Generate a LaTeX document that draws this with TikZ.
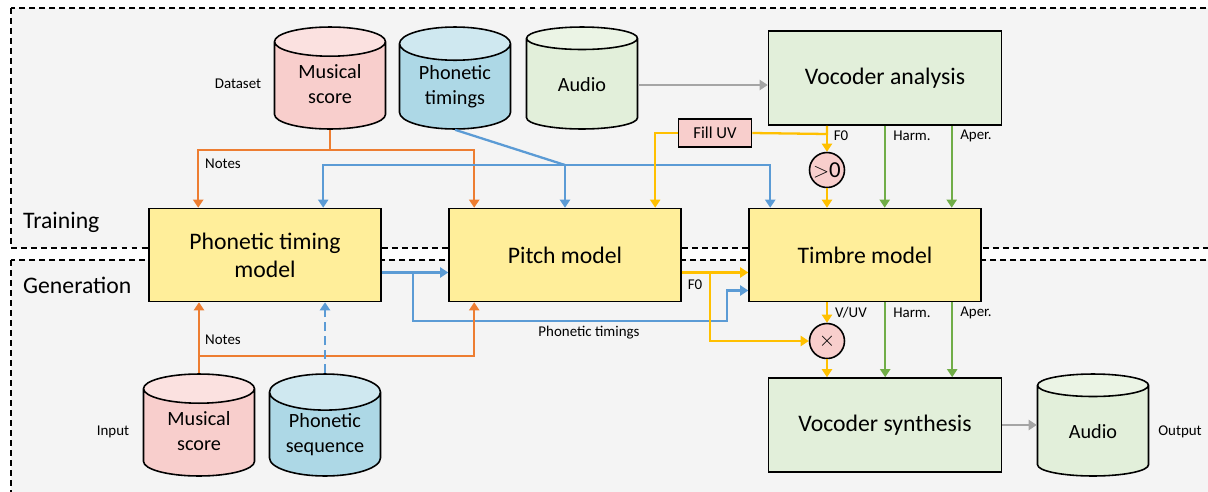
\documentclass[tikz,border=0pt]{standalone}
\usepackage{fontspec}
\setmainfont{Carlito}
\usetikzlibrary{arrows.meta,shapes.geometric}
% extra depth under the last line lifts two-line cylinder text a little
\newcommand{\dbpad}{\rule[-3.5pt]{0pt}{0pt}}

\begin{document}
\begin{tikzpicture}[x=0.02cm, y=-0.02cm,
    model/.style={draw, line width=0.9pt, fill=mfill, minimum width=4.64cm, minimum height=1.86cm, align=center, font=\fontsize{13.5}{16}\selectfont},
    vocoder/.style={model, fill=gfill, minimum width=4.66cm, minimum height=1.88cm},
    db/.style={cylinder, shape border rotate=90, aspect=0.45, anchor=shape center, draw, line width=0.9pt, cylinder uses custom fill, inner sep=0.5pt, minimum width=2.22cm, minimum height=2.04cm, align=center, font=\fontsize{11.5}{14}\selectfont},
    op/.style={circle, draw, line width=0.9pt, fill=pfill, minimum size=0.7cm, inner sep=0pt, font=\fontsize{13}{14}\selectfont},
    lab/.style={font=\fontsize{8.5}{10}\selectfont, inner sep=1pt},
    region/.style={draw, fill=bgray, line width=0.7pt, dash pattern=on 3.4pt off 2.3pt},
    link/.style={line width=1.3pt, -{Triangle[length=0.16cm, width=0.2cm]}},
    note/.style={link, ncol},
    phon/.style={link, bcol},
    fzero/.style={link, fcol},
    spec/.style={link, scol},
    wave/.style={link, acol}]
        % Define standard colors
        \definecolor{bgray}{HTML}{F4F4F4}
        \definecolor{pfill}{HTML}{F8CECC} % Pinkish
        \definecolor{ptop}{HTML}{FBE1E0}
        \definecolor{bfill}{HTML}{ADD8E6} % Blueish
        \definecolor{btop}{HTML}{CFE8F0}
        \definecolor{gfill}{HTML}{E2EFDA} % Greenish
        \definecolor{gtop}{HTML}{EBF4E5}
        \definecolor{mfill}{HTML}{FFEE9A} % Yellowish
        \definecolor{ncol}{HTML}{ED7D31}
        \definecolor{bcol}{HTML}{5B9BD5}
        \definecolor{fcol}{HTML}{FFC000}
        \definecolor{scol}{HTML}{70AD47}
        \definecolor{acol}{HTML}{A5A5A5}

        \clip (0,0) rectangle (1208,491);

        % --- Regions ---
        \draw[region] (11,8) rectangle (1240,248);
        \draw[region] (11,260) rectangle (1240,520);
        \node[anchor=west, font=\fontsize{13.5}{16}\selectfont] (train) at (17,222) {Training};
        \node[anchor=west, font=\fontsize{13.5}{16}\selectfont] (gen) at (17,285) {Generation};

        % --- Dataset ---
        \node[db, cylinder body fill=pfill, cylinder end fill=ptop] (ds) at (330,78) {Musical\\score\dbpad};
        \node[db, cylinder body fill=bfill, cylinder end fill=btop] (pt) at (455,78) {Phonetic\\timings\dbpad};
        \node[db, cylinder body fill=gfill, cylinder end fill=gtop] (audio) at (582,78) {Audio};
        \node[lab] (dslab) at (238,84) {Dataset};
        \node[vocoder] (va) at (885,78) {Vocoder analysis};
        \node[draw, line width=0.9pt, fill=pfill, minimum width=1.46cm, minimum height=0.56cm, inner sep=0pt, font=\fontsize{9.5}{11}\selectfont] (fill) at (715,133) {Fill UV};
        \node[op] (gt) at (827,170) {$>$0};

        % --- Models ---
        \node[model] (ptm) at (265,255) {Phonetic timing\\model};
        \node[model] (pitch) at (565,255) {Pitch model};
        \node[model] (timbre) at (865,255) {Timbre model};

        % --- Generation ---
        \node[op] (mul) at (827,341) {$\times$};
        \node[vocoder] (vs) at (885,425) {Vocoder synthesis};
        \node[db, cylinder body fill=pfill, cylinder end fill=ptop] (msin) at (199,425) {Musical\\score\dbpad};
        \node[db, cylinder body fill=bfill, cylinder end fill=btop] (pseq) at (325,425) {Phonetic\\sequence\dbpad};
        \node[db, cylinder body fill=gfill, cylinder end fill=gtop] (out) at (1093,425) {Audio};
        \node[lab] (inlab) at (113,432) {Input};
        \node[lab] (outlab) at (1180,432) {Output};

        % Notes from the dataset
        \coordinate (nsplit) at (330,150);
        \draw[note, -] (ds.south) -- (nsplit);
        \draw[note] (nsplit) -| ([xshift=1cm]ptm.north west);
        \draw[note] (nsplit) -| ([xshift=0.52cm]pitch.north west);
        \node[lab] (notes1) at (223,164) {Notes};

        % Phonetic timings from the dataset
        \coordinate (psplit) at (565,165);
        \draw[phon, -] (pt.south) -- (psplit);
        \draw[phon] (psplit) -| ([xshift=3.5cm]ptm.north west);
        \draw[phon] (psplit) -- (pitch.north);
        \draw[phon] (psplit) -| ([xshift=0.44cm]timbre.north west);

        % Analysis
        \draw[wave] (audio.east) -- (va.west |- audio.east);
        \coordinate (f0split) at (827,134);
        \draw[fzero, -] (va.south -| gt.north) -- (f0split) -- (fill.east);
        \draw[fzero] (f0split) -- (gt.north);
        \draw[fzero] (fill.west) -| ([xshift=4.14cm]pitch.north west);
        \draw[fzero] (gt.south) -- (timbre.north -| gt.south);
        \draw[spec] ([xshift=2.34cm]va.south west) coordinate (h1) -- (timbre.north -| h1);
        \draw[spec] ([xshift=3.68cm]va.south west) coordinate (a1) -- (timbre.north -| a1);
        \node[lab] (f0a) at (841,136) {F0};
        \node[lab] (harma) at (912,136) {Harm.};
        \node[lab] (apera) at (976,136) {Aper.};

        % Model to model
        \draw[phon] ([yshift=-0.35cm]ptm.east) -- ([yshift=-0.35cm]pitch.west);
        \coordinate (tsplit) at (413,272);
        \coordinate (tbend) at (727,321);
        \draw[phon] (tsplit) |- (tbend) |- ([yshift=-0.71cm]timbre.west);
        \node[lab] (ptlab) at (589,333) {Phonetic timings};
        \draw[fzero] ([yshift=-0.35cm]pitch.east) -- ([yshift=-0.35cm]timbre.west);
        \coordinate (fsplit) at (710,272);
        \draw[fzero] (fsplit) |- (mul.west);
        \node[lab] (f0b) at (695,285) {F0};

        % Synthesis
        \draw[fzero] (timbre.south -| mul.north) -- (mul.north);
        \draw[fzero] (mul.south) -- (vs.north -| mul.south);
        \draw[spec] ([xshift=2.74cm]timbre.south west) coordinate (h2) -- (vs.north -| h2);
        \draw[spec] ([xshift=4.08cm]timbre.south west) coordinate (a2) -- (vs.north -| a2);
        \node[lab] (vuv) at (851,313) {V/UV};
        \node[lab] (harmb) at (912,313) {Harm.};
        \node[lab] (aperb) at (976,313) {Aper.};
        \draw[wave] (vs.east) -- (out.west |- vs.east);

        % Notes and phonemes from the input
        \draw[note] (msin.north) -- (ptm.south -| msin.north);
        \coordinate (nsplit2) at (199,356);
        \draw[note] (nsplit2) -| ([xshift=0.52cm]pitch.south west);
        \node[lab] (notes2) at (223,340) {Notes};
        \draw[phon, dash pattern=on 5pt off 3pt] (pseq.north) -- (ptm.south -| pseq.north);
    \end{tikzpicture}
\end{document}
